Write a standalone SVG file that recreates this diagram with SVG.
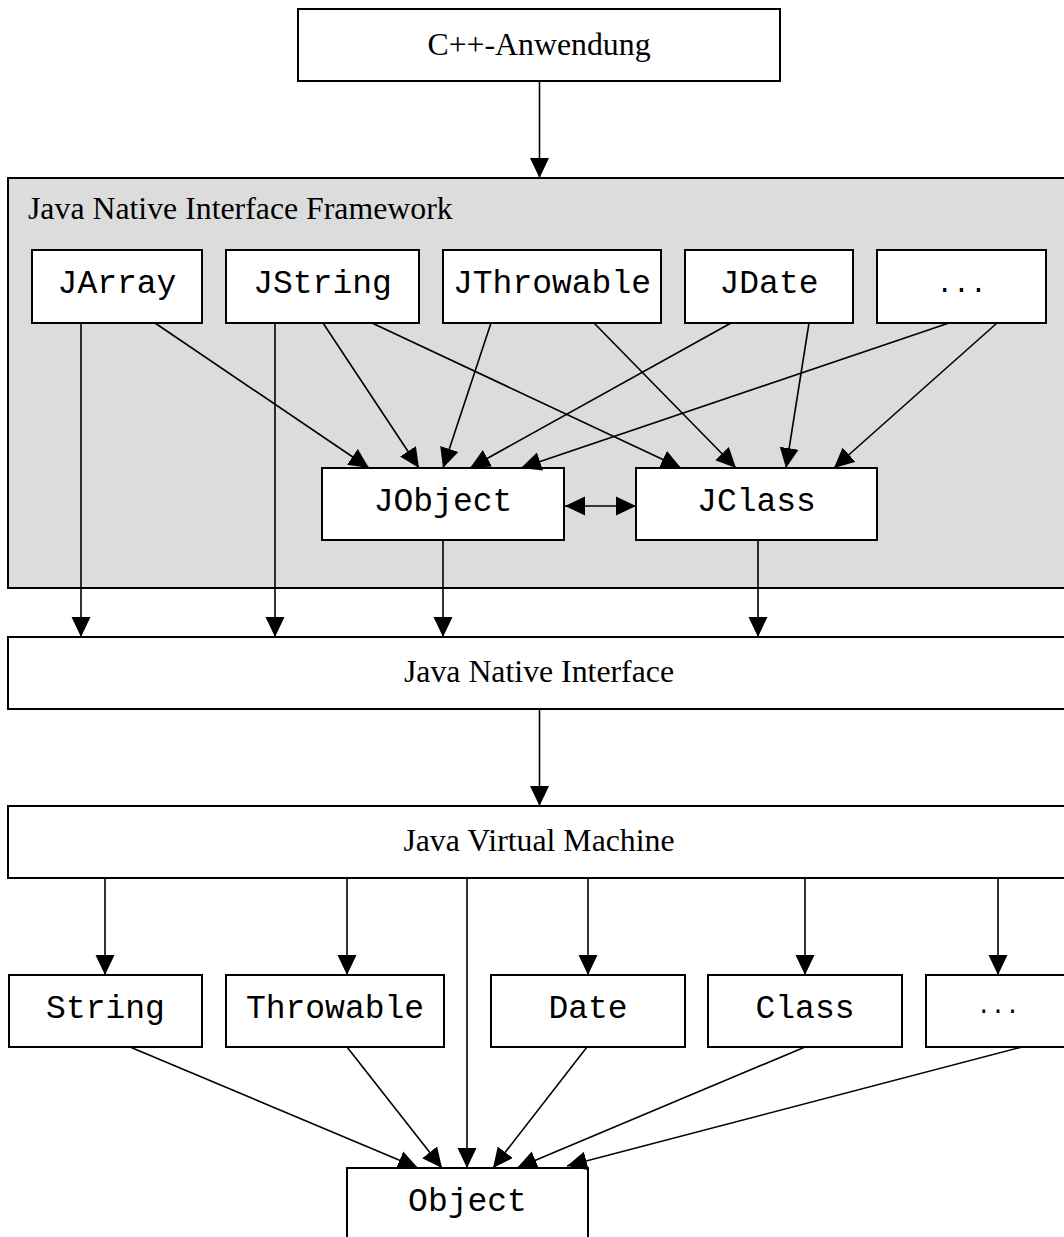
<svg xmlns="http://www.w3.org/2000/svg" width="1064" height="1237" viewBox="0 0 1064 1237">
  <style>
    .box { fill: #ffffff; stroke: #000000; stroke-width: 2; }
    .panel { fill: #dcdcdc; stroke: #000000; stroke-width: 2; }
    .serif { font-family: "Liberation Serif", "Times New Roman", serif; font-size: 31.8px; fill: #000; }
    .mono { font-family: "Liberation Mono", "Courier New", monospace; font-size: 33px; fill: #000; text-anchor: middle; }
    .mid { text-anchor: middle; }
    .edge { fill: none; stroke: #000000; stroke-width: 1.6; marker-end: url(#head); }
  </style>
  <defs>
    <marker id="head" viewBox="0 0 20 20" refX="20" refY="10" markerUnits="userSpaceOnUse" markerWidth="20" markerHeight="20" orient="auto-start-reverse">
      <path d="M0,0.5 L20,10 L0,19.5 z" fill="#000"/>
    </marker>
  </defs>

  <g id="cpp-app">
    <rect class="box" x="298" y="9" width="482" height="72"/>
    <text class="serif mid" x="539" y="55">C++-Anwendung</text>
  </g>

  <g id="jni-framework">
    <rect class="panel" x="8" y="178" width="1062" height="410"/>
    <text class="serif" x="28" y="219">Java Native Interface Framework</text>
  </g>

  <g id="jarray">
    <rect class="box" x="32" y="250" width="170" height="73"/>
    <text class="mono" x="117" y="293">JArray</text>
  </g>
  <g id="jstring">
    <rect class="box" x="226" y="250" width="193" height="73"/>
    <text class="mono" x="322.5" y="293">JString</text>
  </g>
  <g id="jthrowable">
    <rect class="box" x="443" y="250" width="218" height="73"/>
    <text class="mono" x="552" y="293">JThrowable</text>
  </g>
  <g id="jdate">
    <rect class="box" x="685" y="250" width="168" height="73"/>
    <text class="mono" x="769" y="293">JDate</text>
  </g>
  <g id="jmore">
    <rect class="box" x="877" y="250" width="169" height="73"/>
    <text class="mono" x="961.5" y="292" style="font-size:28px">...</text>
  </g>

  <g id="jobject">
    <rect class="box" x="322" y="468" width="242" height="72"/>
    <text class="mono" x="443" y="511">JObject</text>
  </g>
  <g id="jclass">
    <rect class="box" x="636" y="468" width="241" height="72"/>
    <text class="mono" x="756.5" y="511">JClass</text>
  </g>

  <g id="jni">
    <rect class="box" x="8" y="637" width="1062" height="72"/>
    <text class="serif mid" x="539" y="682">Java Native Interface</text>
  </g>

  <g id="jvm">
    <rect class="box" x="8" y="806" width="1062" height="72"/>
    <text class="serif mid" x="539" y="851">Java Virtual Machine</text>
  </g>

  <g id="string">
    <rect class="box" x="9" y="975" width="193" height="72"/>
    <text class="mono" x="105.5" y="1018">String</text>
  </g>
  <g id="throwable">
    <rect class="box" x="226" y="975" width="218" height="72"/>
    <text class="mono" x="335" y="1018">Throwable</text>
  </g>
  <g id="date">
    <rect class="box" x="491" y="975" width="194" height="72"/>
    <text class="mono" x="588" y="1018">Date</text>
  </g>
  <g id="class">
    <rect class="box" x="708" y="975" width="194" height="72"/>
    <text class="mono" x="805" y="1018">Class</text>
  </g>
  <g id="more">
    <rect class="box" x="926" y="975" width="144" height="72"/>
    <text class="mono" x="998" y="1013" style="font-size:24px">...</text>
  </g>

  <g id="object">
    <rect class="box" x="347" y="1168" width="241" height="74"/>
    <text class="mono" x="467.5" y="1211">Object</text>
  </g>

  <g id="connectors">
    <line class="edge" x1="539.5" y1="81" x2="539.5" y2="178"/>

    <line class="edge" x1="81" y1="323" x2="81" y2="637"/>
    <line class="edge" x1="275" y1="323" x2="275" y2="637"/>

    <line class="edge" x1="155" y1="323" x2="369" y2="468"/>
    <line class="edge" x1="323" y1="323" x2="419" y2="468"/>
    <line class="edge" x1="491" y1="323" x2="443" y2="468"/>
    <line class="edge" x1="731" y1="323" x2="470" y2="468"/>
    <line class="edge" x1="949" y1="323" x2="521" y2="468"/>

    <line class="edge" x1="372" y1="323" x2="681" y2="468"/>
    <line class="edge" x1="594" y1="323" x2="736" y2="468"/>
    <line class="edge" x1="809" y1="323" x2="786" y2="468"/>
    <line class="edge" x1="997" y1="323" x2="834" y2="468"/>

    <line class="edge" x1="565" y1="506" x2="636" y2="506" style="marker-start:url(#head)"/>

    <line class="edge" x1="443" y1="540" x2="443" y2="637"/>
    <line class="edge" x1="758" y1="540" x2="758" y2="637"/>

    <line class="edge" x1="539.5" y1="709" x2="539.5" y2="806"/>

    <line class="edge" x1="105" y1="878" x2="105" y2="975"/>
    <line class="edge" x1="347" y1="878" x2="347" y2="975"/>
    <line class="edge" x1="588" y1="878" x2="588" y2="975"/>
    <line class="edge" x1="805" y1="878" x2="805" y2="975"/>
    <line class="edge" x1="998" y1="878" x2="998" y2="975"/>

    <line class="edge" x1="467" y1="878" x2="467" y2="1168"/>
    <line class="edge" x1="130" y1="1047" x2="418" y2="1168"/>
    <line class="edge" x1="347" y1="1047" x2="442" y2="1168"/>
    <line class="edge" x1="587" y1="1047" x2="493" y2="1168"/>
    <line class="edge" x1="805" y1="1047" x2="517" y2="1168"/>
    <line class="edge" x1="1022" y1="1047" x2="567" y2="1166"/>
  </g>
</svg>
